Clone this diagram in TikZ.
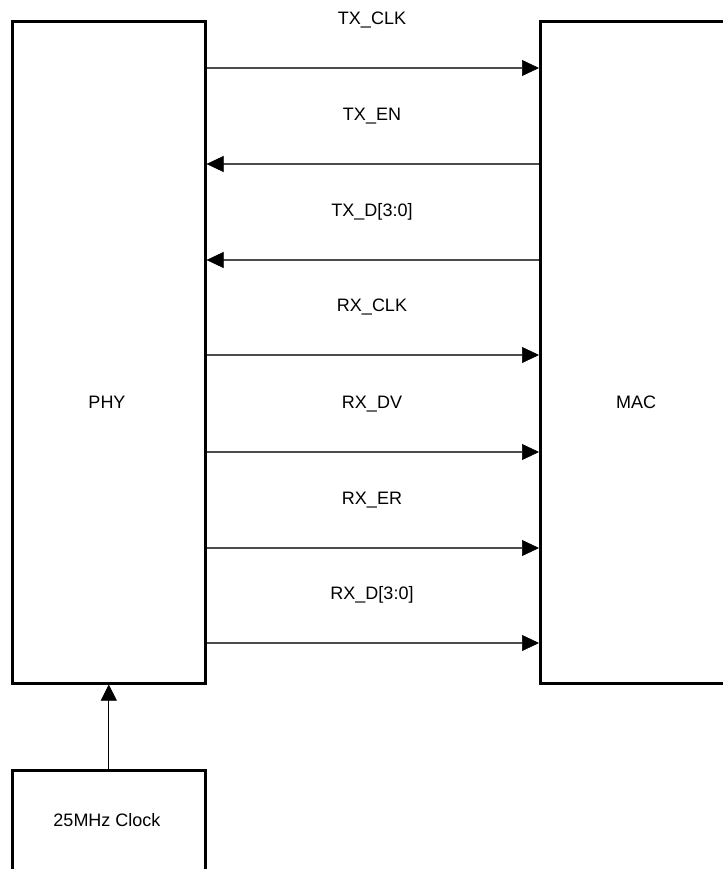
\documentclass[tikz,border=0pt]{standalone}
\usepackage{fontspec}
\setmainfont{Liberation Sans}
\usetikzlibrary{arrows.meta}

\begin{document}
\begin{tikzpicture}[x=1pt, y=-1pt,
  box/.style={draw, line width=2.6pt, anchor=north west, inner sep=0pt},
  sig/.style={line width=2pt, draw=black!70, -{Triangle[length=17pt, width=16pt, black, line width=0.5pt]}},
  lab/.style={font=\fontsize{18}{22}\selectfont}]
  \useasboundingbox (0,0) rectangle (722,869);
  % 模块
  \node[box, minimum width=193pt, minimum height=662pt] (phy) at (11,20) {};
  \node[box, minimum width=260pt, minimum height=662pt] (mac) at (539,20) {};
  \node[box, minimum width=193pt, minimum height=160pt] (clk) at (11,769) {};
  \node[lab] (phyname) at (107,402) {PHY};
  \node[lab] (macname) at (636,402) {MAC};
  \node[lab] (clkname) at (107,820) {25MHz Clock};
  % 信号线
  \foreach \i/\y/\name/\dir in {1/68/TX\_CLK/r, 2/164/TX\_EN/l, 3/260/TX\_D[3:0]/l,
      4/355/RX\_CLK/r, 5/452/RX\_DV/r, 6/548/RX\_ER/r, 7/643/RX\_D[3:0]/r} {
    \coordinate (s\i) at (0,\y);
    \node[lab] (n\i) at (372,\y-48) {\name};
    \if r\dir
      \draw[sig] (phy.east |- s\i) -- (mac.west |- s\i);
    \else
      \draw[sig] (mac.west |- s\i) -- (phy.east |- s\i);
    \fi
  }
  % 时钟
  \draw[line width=1.2pt, -{Triangle[length=16pt, width=16pt, line width=0.5pt]}] (clk.north) -- (phy.south);
\end{tikzpicture}
\end{document}
